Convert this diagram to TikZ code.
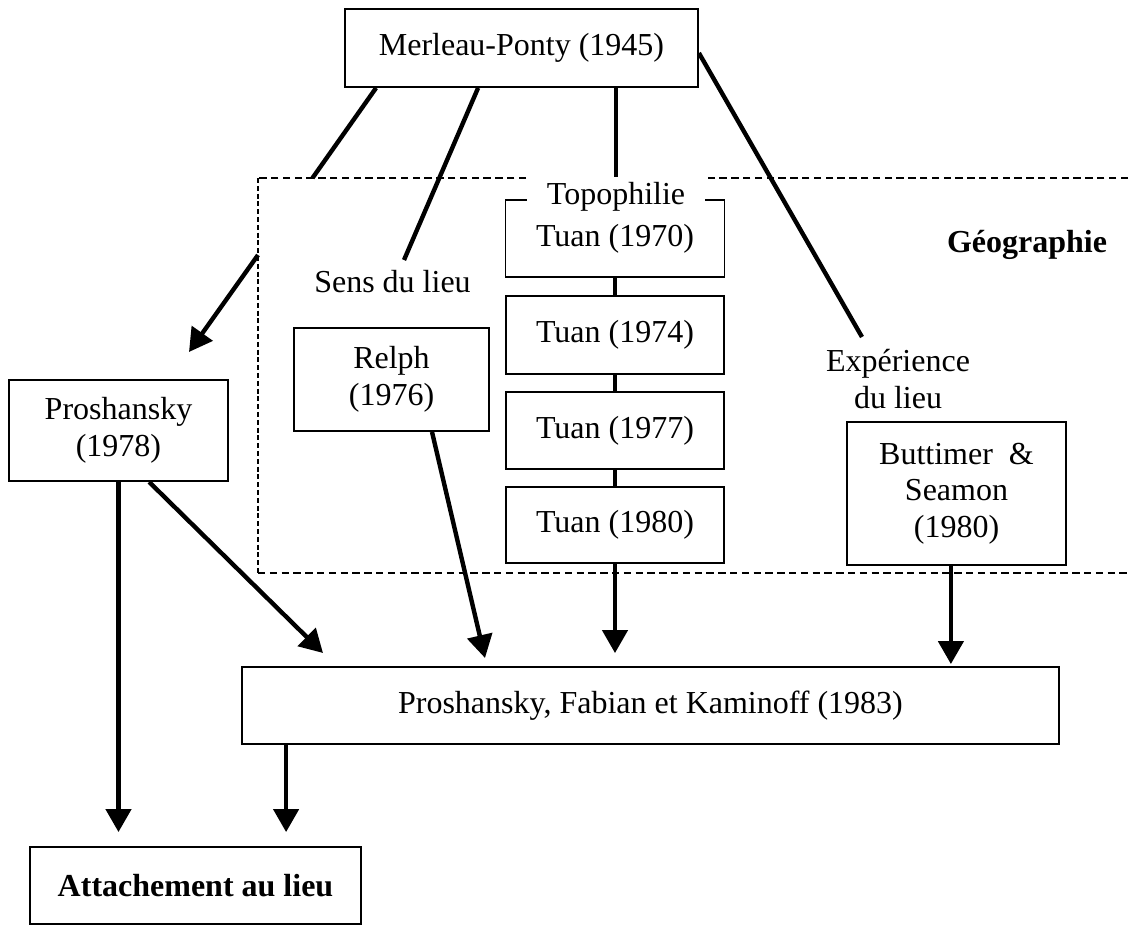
\documentclass[tikz,border=0pt]{standalone}
\usepackage{fontspec}
\setmainfont{Liberation Serif}
\usetikzlibrary{arrows.meta,calc}
\newcommand{\diagfs}{\fontsize{16pt}{18.3pt}\selectfont}
\begin{document}
\begin{tikzpicture}[x=0.5pt,y=-0.5pt,
  box/.style={draw,line width=0.9pt,inner sep=0pt,align=center,font=\diagfs},
  lab/.style={inner sep=0pt,align=center,font=\diagfs},
  conn/.style={line width=2.2pt},
  arr/.style={conn,-{Triangle[length=11.5pt,width=12.5pt]}},
  frameh/.style={line width=0.7pt,dash pattern=on 3.7pt off 2.2pt},
  framev/.style={line width=0.7pt,dash pattern=on 2.5pt off 1.4pt}]
\useasboundingbox (0,0) rectangle (1131,925);
% Geographie frame
\draw[frameh] (1128,178) -- (258,178);
\draw[framev] (258,178) -- (258,573);
\draw[frameh] (258,573) -- (1130,573);
% boxes
\node[box,minimum width=176.5pt,minimum height=39pt] (mp) at (521.5,48) {Merleau-Ponty (1945)};
\node[box,minimum width=109.5pt,minimum height=38.5pt] (t70) at (615,238.5) {Tuan (1970)};
\node[box,minimum width=109pt,minimum height=39pt] (t74) at (615,335) {Tuan (1974)};
\node[box,minimum width=109pt,minimum height=38.5pt] (t77) at (615,430.5) {Tuan (1977)};
\node[box,minimum width=109pt,minimum height=38pt] (t80) at (615,525) {Tuan (1980)};
\node[lab,fill=white,minimum width=89pt,minimum height=20pt] (topo) at (616,197) {Topophilie};
\node[box,minimum width=97.5pt,minimum height=51.5pt] (relph) at (391.5,379.5) {Relph\\(1976)};
\node[box,minimum width=109.5pt,minimum height=50.5pt] (pr78) at (118.5,430.5) {Proshansky\\(1978)};
\node[box,minimum width=109.5pt,minimum height=71.5pt] (bs) at (956.5,493.5) {Buttimer\enspace\&\\Seamon\\(1980)};
\node[box,minimum width=408.5pt,minimum height=38.5pt] (pfk) at (650.5,705.5) {Proshansky, Fabian et Kaminoff (1983)};
\node[box,minimum width=165.5pt,minimum height=38.5pt,font=\diagfs\bfseries] (att) at (195.5,885.5) {Attachement au lieu};
% labels
\node[lab] (sens) at (392.5,282) {Sens du lieu};
\node[lab] (exp) at (898,379) {Expérience\\du lieu};
\node[lab,font=\diagfs\bfseries] (geo) at (1027,245) {Géographie};
% free ends
\coordinate (l1a) at (312.5,178);
\coordinate (l1b) at (258,255);
\coordinate (l1tip) at (189,352);
\coordinate (l2end) at (404,260);
\coordinate (l4end) at (862,337);
\coordinate (tipR) at (485,658);
\coordinate (tipD) at (323,653);
\coordinate (bsx) at ($(pfk.north east)+(-109,0)$);
% connectors
\draw[conn] ($(mp.south west)+(32,0)$) -- (l1a);
\draw[arr] (l1b) -- (l1tip);
\draw[conn] ($(mp.south west)+(134,0)$) -- (l2end);
\draw[conn] (mp.south -| topo.north) -- (topo.north);
\draw[conn] ($(mp.east)+(0,5)$) -- (l4end);
\draw[conn] (t70) -- (t74);
\draw[conn] (t74) -- (t77);
\draw[conn] (t77) -- (t80);
\draw[arr,shorten >=6.5pt] (t80.south) -- (t80.south |- pfk.north);
\draw[arr] ($(relph.south)+(40.5,0)$) -- (tipR);
\draw[arr] ($(pr78.south west)+(141,0)$) -- (tipD);
\draw[arr,shorten >=7pt] (pr78.south) -- (pr78.south |- att.north);
\draw[arr,shorten >=7pt] ($(pfk.south west)+(45,0)$) -- ($(att.north west)+(257,0)$);
\draw[arr,shorten >=1pt] (bsx |- bs.south) -- (bsx);
\end{tikzpicture}
\end{document}
